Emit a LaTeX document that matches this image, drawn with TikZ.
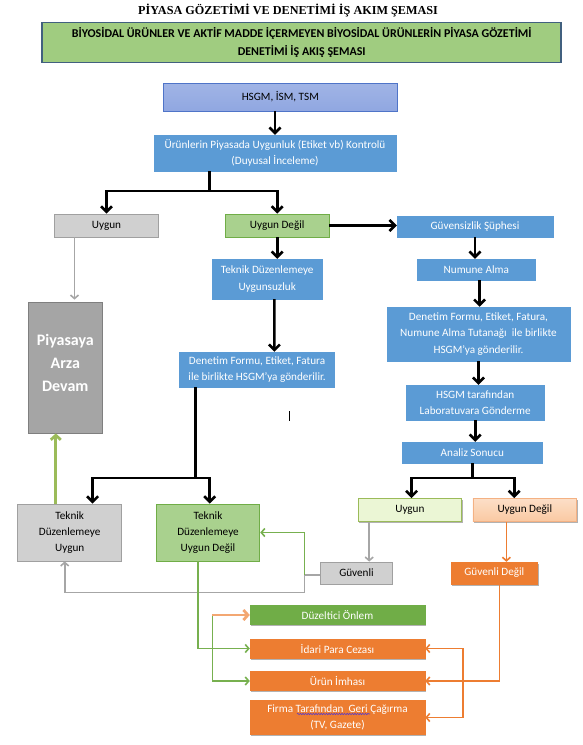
\documentclass[tikz,border=0pt]{standalone}
\usepackage{fontspec}
\setmainfont{Carlito}
\newfontfamily\titlefont{Liberation Serif}
\usetikzlibrary{arrows.meta,shadows,decorations.pathmorphing,calc}
\definecolor{cblue}{HTML}{5B9BD5}
\definecolor{chsgm}{HTML}{90A7E1}
\definecolor{chsgmbd}{HTML}{4F74C8}
\definecolor{chdr}{HTML}{A0CC80}
\definecolor{chdrbd}{HTML}{41607F}
\definecolor{cgray}{HTML}{D0D0D0}
\definecolor{cgraybd}{HTML}{A0A0A0}
\definecolor{cdgray}{HTML}{A5A5A5}
\definecolor{cdgraybd}{HTML}{7F7F7F}
\definecolor{clgreen}{HTML}{A9D18E}
\definecolor{cgreen}{HTML}{70AD47}
\definecolor{cpale}{HTML}{EBF6D5}
\definecolor{cpalebd}{HTML}{9BBB59}
\definecolor{cpeach}{HTML}{FAC9A2}
\definecolor{cpeachbd}{HTML}{F4B183}
\definecolor{corange}{HTML}{ED7D31}
\definecolor{cline}{HTML}{A6A6A6}
\definecolor{cgline}{HTML}{77B04F}
\definecolor{cthick}{HTML}{9BBB59}
\definecolor{cwavy}{HTML}{5A3CC8}
\tikzset{
  sz/.style 2 args={minimum width=#1, minimum height=#2},
  bx/.style={rectangle, align=center, inner sep=0pt, font=\fontsize{11.2}{16.3}\selectfont},
  bluebx/.style={bx, fill=cblue, draw=cblue, text=white},
  graybx/.style={bx, fill=cgray, draw=cgraybd, line width=0.8pt, text=black},
  lgreenbx/.style={bx, fill=clgreen, draw=cgreen, line width=0.8pt, text=black},
  orangebx/.style={bx, fill=corange, draw=corange, text=white},
  shad/.style={drop shadow={shadow xshift=1.2pt, shadow yshift=-1.5pt, opacity=.3, fill=black}},
  bigtip/.tip={Straight Barb[length=5.5pt,width=11pt]},
  smalltip/.tip={Straight Barb[length=3.5pt,width=8pt]},
  blk/.style={line width=2.6pt, black},
  gline/.style={line width=1.6pt, cline},
  grline/.style={line width=1.6pt, cgline},
  orline/.style={line width=1.6pt, corange},
}
\begin{document}
\begin{tikzpicture}[x=1pt,y=-1pt]
\useasboundingbox (0,0) rectangle (583,745);
\fill[white] (0,0) rectangle (583,745);

\node[font=\titlefont\bfseries\fontsize{12.2}{14}\selectfont] (title) at (288,11) {PİYASA GÖZETİMİ VE DENETİMİ İŞ AKIM ŞEMASI};

\node[bx, sz={518.7}{40}, fill=chdr, draw=chdrbd, line width=1.8pt, font=\bfseries\fontsize{12}{17.5}\selectfont] (hdr) at (301.7,42.5)
  {BİYOSİDAL ÜRÜNLER VE AKTİF MADDE İÇERMEYEN BİYOSİDAL ÜRÜNLERİN PİYASA GÖZETİMİ\\DENETİMİ İŞ AKIŞ ŞEMASI};

\node[bx, sz={234}{28}, top color=chsgm!85!white, bottom color=chsgm, draw=chsgmbd, line width=0.8pt] (hsgm) at (280.3,97) {HSGM, İSM, TSM};
\node[bluebx, sz={242}{36}] (kontrol) at (275,153) {Ürünlerin Piyasada Uygunluk (Etiket vb) Kontrolü\\(Duyusal İnceleme)};

\node[graybx, sz={103.7}{23}] (uygun1) at (106.5,225.5) {Uygun};
\node[lgreenbx, sz={103.7}{23}] (ud1) at (277.2,225.5) {Uygun Değil};
\node[bluebx, sz={156}{21}] (guvsiz) at (475,226.5) {Güvensizlik Şüphesi};

\node[bx, sz={74}{131}, fill=cdgray, draw=cdgraybd, line width=0.8pt, text=white, text depth=10pt, font=\bfseries\fontsize{16}{23}\selectfont] (piyasa) at (65.3,367.5) {Piyasaya\\Arza\\Devam};

\node[bluebx, sz={110.4}{40}] (tdu) at (267.2,279) {Teknik Düzenlemeye\\Uygunsuzluk};
\node[bluebx, sz={155}{35}] (den1) at (257.1,369.5) {Denetim Formu, Etiket, Fatura\\ile birlikte HSGM’ya gönderilir.};

\node[bluebx, sz={118.2}{21}] (numune) at (476.3,269.5) {Numune Alma};
\node[bluebx, sz={183}{54}] (den2) at (478.5,334) {Denetim Formu, Etiket, Fatura,\\Numune Alma Tutanağı\ \ ile birlikte\\HSGM’ya gönderilir.};
\node[bluebx, sz={138.3}{35}] (lab) at (475.2,402.5) {HSGM tarafından\\Laboratuvara Gönderme};
\node[bluebx, sz={139.4}{21}] (analiz) at (472.3,452.5) {Analiz Sonucu};

\node[graybx, sz={103.7}{57}] (tdu2) at (69.7,532.5) {Teknik\\Düzenlemeye\\Uygun};
\node[lgreenbx, sz={103.7}{57}] (tdud) at (208,532.5) {Teknik\\Düzenlemeye\\Uygun Değil};

\node[bx, sz={103.7}{23}, shad, fill=cpale, draw=cpalebd, line width=0.8pt] (uygun2) at (409.9,510) {Uygun};
\node[bx, sz={103.7}{23}, shad, top color=cpeach!60!white, bottom color=cpeach, draw=cpeachbd, line width=0.8pt] (ud2) at (524.8,510) {Uygun Değil};

\node[graybx, sz={71.5}{22}] (guvenli) at (356.5,573) {Güvenli};
\node[orangebx, sz={86.5}{22}, shad] (guvd) at (494.3,573) {Güvenli Değil};

\node[bx, sz={175}{19}, shad, fill=cgreen, draw=cgreen, text=white] (duz) at (337.5,615) {Düzeltici Önlem};
\node[orangebx, sz={175}{19}, shad] (idari) at (337.5,648.5) {İdari Para Cezası};
\node[orangebx, sz={175}{19}, shad] (urun) at (337.5,681) {Ürün İmhası};
\node[orangebx, sz={175}{34}, shad] (firma) at (337.5,717.5) {Firma Tarafından\ \ Geri Çağırma\\(TV, Gazete)};
\draw[cwavy, line width=0.6pt, decorate, decoration={snake, amplitude=0.7pt, segment length=2.6pt}] (297,714) -- (370,714);

% cursor mark
\draw[black, line width=0.7pt] (289,411) -- (289,421);

% coordinates
\coordinate (k1) at (209.7,191);
\coordinate (j1) at (195.2,478);
\coordinate (L1) at (92.6,478);
\coordinate (L2) at (209.7,478);
\coordinate (R1) at (411.6,478);
\coordinate (R2) at (514.2,478);
\coordinate (g1) at (304.5,575);
\coordinate (g2) at (64.7,592.5);
\coordinate (v1) at (212.3,0);
\coordinate (v2) at (462.7,0);
\coordinate (v3) at (499.3,0);
\coordinate (t1) at (198,0);
\coordinate (c56) at (55.8,0);
\coordinate (c75) at (74.5,0);
\coordinate (c369) at (369.2,0);
\coordinate (c506) at (506.4,0);

% black connectors
\draw[blk, -{bigtip}] (hsgm.south -| kontrol.north) -- (kontrol.north);
\draw[blk] (kontrol.south -| k1) -- (k1);
\draw[blk, {bigtip}-{bigtip}] (uygun1.north) -- (uygun1.north |- k1) -- (ud1.north |- k1) -- (ud1.north);
\draw[blk, -{bigtip}] (ud1.east) -- (guvsiz.west |- ud1.east);
\draw[blk, -{bigtip}] (ud1.south) -- (ud1.south |- tdu.north);
\draw[blk, -{bigtip}] ($(tdu.south)+(7.2,0)$) -- ($(den1.north)+(17.3,0)$);
\draw[blk] (den1.south -| j1) -- (j1);
\draw[blk, {bigtip}-{bigtip}] (L1 |- tdu2.north) -- (L1) -- (L2) -- (L2 |- tdud.north);

\draw[blk, -{bigtip}] (guvsiz.south) -- (guvsiz.south |- numune.north);
\draw[blk, -{bigtip}] ($(numune.south)+(3.3,0)$) -- ($(den2.north)+(1.1,0)$);
\draw[blk, -{bigtip}] (den2.south) -- (den2.south |- lab.north);
\draw[blk, -{bigtip}] (lab.south) -- (lab.south |- analiz.north);
\draw[blk] (analiz.south) -- (analiz.south |- R1);
\draw[blk, {bigtip}-{bigtip}] (R1 |- uygun2.north) -- (R1) -- (R2) -- (R2 |- ud2.north);

% gray connectors
\draw[gline, -{smalltip}] (uygun1.south -| c75) -- ($(piyasa.north -| c75)+(0,-2)$);
\draw[gline, -{smalltip}] (uygun2.south -| c369) -- (guvenli.north -| c369);
\draw[gline] (guvenli.west |- g1) -- (g1);
\draw[gline, -{smalltip}] (g1) -- (g1 |- g2) -- (g2) -- (g2 |- tdu2.south);

% green connectors
\draw[line width=2.8pt, cthick, -{Straight Barb[length=4.5pt,width=10pt]}] (tdu2.north -| c56) -- (piyasa.south -| c56);
\draw[grline, -{smalltip}] (g1) -- (g1 |- tdud.east) -- (tdud.east);
\draw[grline, -{smalltip}] (tdud.south -| t1) -- (t1 |- idari.west) -- (idari.west);
\draw[grline, -{smalltip}] (v1 |- duz.west) -- (v1 |- urun.west) -- (urun.west);
\draw[line width=2.8pt, cpeachbd!80!corange, -{Straight Barb[length=4.5pt,width=10pt]}] (v1 |- duz.west) -- (duz.west);

% orange connectors
\draw[orline, -{smalltip}] (ud2.south -| c506) -- (guvd.north -| c506);
\draw[orline, -{smalltip}] (guvd.south -| v3) -- (v3 |- urun.east) -- (urun.east);
\draw[orline, {smalltip}-{smalltip}] (idari.east) -- (v2 |- idari.east) -- (v2 |- firma.east) -- (firma.east);
\end{tikzpicture}
\end{document}
